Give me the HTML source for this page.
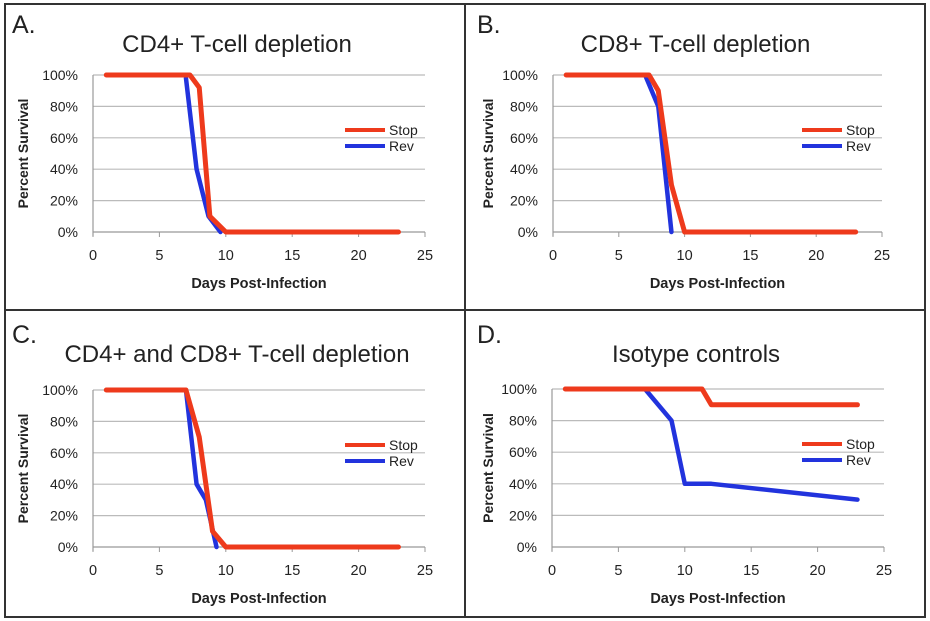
<!DOCTYPE html>
<html><head><meta charset="utf-8"><style>
html,body{margin:0;padding:0;background:#fff;width:930px;height:621px;overflow:hidden}
svg text{font-family:"Liberation Sans",sans-serif;fill:#222}
</style></head><body>
<svg id="s" width="930" height="621" xmlns="http://www.w3.org/2000/svg">
<rect x="0" y="0" width="930" height="621" fill="#fff"/>
<rect x="5" y="4" width="920" height="613" fill="none" stroke="#333" stroke-width="2"/>
<line x1="465" y1="4" x2="465" y2="617" stroke="#333" stroke-width="2"/>
<line x1="5" y1="310" x2="925" y2="310" stroke="#333" stroke-width="2"/>
</svg>
<script>
var s=document.getElementById('s'),h='';
var P=[
{L:'A.',t:'CD4+ T-cell depletion',ox:0,oy:0,x0:93,x1:425,y1:75,y0:232,
 red:[[1,100],[7.3,100],[8,92],[8.8,10],[10,0],[23,0]],
 blue:[[7,98],[7.8,40],[8.7,10],[9.6,0]]},
{L:'B.',t:'CD8+ T-cell depletion',ox:465,oy:0,x0:553,x1:882,y1:75,y0:232,
 red:[[1,100],[7.3,100],[8,90],[9,30],[10,0],[23,0]],
 blue:[[7,100],[8,80],[9,0]]},
{L:'C.',t:'CD4+ and CD8+ T-cell depletion',ox:0,oy:310,x0:93,x1:425,y1:390,y0:547,
 red:[[1,100],[7,100],[8,70],[9,10],[10,0],[23,0]],
 blue:[[7,100],[7.8,40],[8.5,30],[9.3,0]]},
{L:'D.',t:'Isotype controls',ox:465,oy:310,x0:552,x1:884,y1:389,y0:547,
 red:[[1,100],[11.3,100],[12,90],[23,90]],
 blue:[[7,100],[9,80],[10,40],[12,40],[23,30]]}];
P.forEach(function(p){
 var X=function(d){return p.x0+(p.x1-p.x0)*d/25},Y=function(v){return p.y0+(p.y1-p.y0)*v/100};
 h+='<text x="'+(p.ox+12)+'" y="'+(p.oy+33)+'" font-size="25">'+p.L+'</text>';
 h+='<text x="'+((p.x0+p.x1)/2-22)+'" y="'+(p.oy+52)+'" font-size="24" text-anchor="middle">'+p.t+'</text>';
 for(var i=0;i<=5;i++){var y=Y(i*20);
  h+='<line x1="'+p.x0+'" y1="'+y+'" x2="'+p.x1+'" y2="'+y+'" stroke="'+(i?'#bbb':'#999')+'" stroke-width="1.2"/>';
  h+='<text x="'+(p.x0-15)+'" y="'+(y+5)+'" font-size="14" text-anchor="end">'+(i*20)+'%</text>';}
 h+='<line x1="'+p.x0+'" y1="'+p.y1+'" x2="'+p.x0+'" y2="'+(p.y0+4)+'" stroke="#999" stroke-width="1.2"/>';
 for(var d=0;d<=25;d+=5){var x=X(d);
  h+='<line x1="'+x+'" y1="'+p.y0+'" x2="'+x+'" y2="'+(p.y0+5)+'" stroke="#999"/>';
  h+='<text x="'+x+'" y="'+(p.y0+28)+'" font-size="14.5" text-anchor="middle">'+d+'</text>';}
 h+='<text x="'+((p.x0+p.x1)/2)+'" y="'+(p.y0+56)+'" font-size="14.5" font-weight="bold" text-anchor="middle">Days Post-Infection</text>';
 var cy=(p.y0+p.y1)/2;
 h+='<text transform="translate('+(p.ox+28)+','+cy+') rotate(-90)" font-size="14" font-weight="bold" text-anchor="middle">Percent Survival</text>';
 function pl(a,c,w){return '<polyline points="'+a.map(function(q){return X(q[0])+','+Y(q[1])}).join(' ')+'" fill="none" stroke="'+c+'" stroke-width="'+w+'" stroke-linejoin="round" stroke-linecap="round"/>';}
 h+=pl(p.blue,'#2233dd',4.5)+pl(p.red,'#ee3a1c',5);
 var lx=p.x1-80,ly=p.y1+55;
 if(p.L=='D.'){lx=p.x1-82;ly=p.y1+55;}
 h+='<line x1="'+lx+'" y1="'+ly+'" x2="'+(lx+40)+'" y2="'+ly+'" stroke="#ee3a1c" stroke-width="4"/>';
 h+='<line x1="'+lx+'" y1="'+(ly+16)+'" x2="'+(lx+40)+'" y2="'+(ly+16)+'" stroke="#2233dd" stroke-width="4"/>';
 h+='<text x="'+(lx+44)+'" y="'+(ly+5)+'" font-size="14">Stop</text>';
 h+='<text x="'+(lx+44)+'" y="'+(ly+21)+'" font-size="14">Rev</text>';
});
s.insertAdjacentHTML('beforeend',h);
</script>
</body></html>
